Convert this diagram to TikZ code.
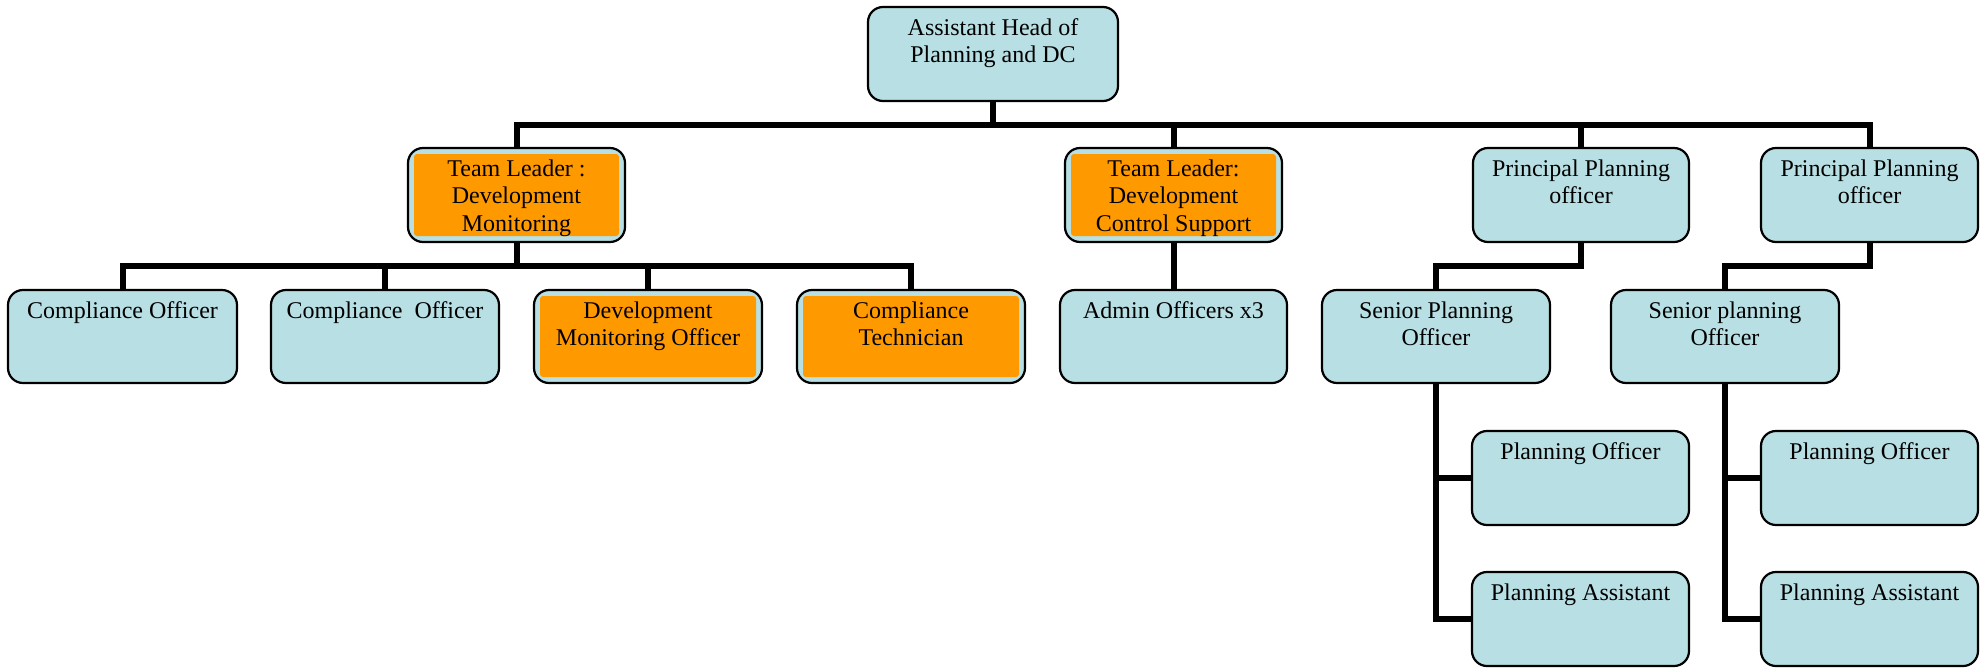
\documentclass[tikz,border=0pt]{standalone}
\usepackage{fontspec}
\setmainfont{Liberation Serif}
\usetikzlibrary{backgrounds}
\definecolor{boxblue}{RGB}{184,223,227}
\definecolor{boxorange}{RGB}{255,153,0}
\tikzset{
  box/.style={draw=black, line width=2.2pt, fill=boxblue, rounded corners=15pt,
    inner sep=0pt, outer sep=0pt, anchor=north west},
  lbl/.style={inner sep=0pt, outer sep=0pt, anchor=north, align=center,
    font=\fontsize{24}{27.5}\selectfont},
  conn/.style={draw=black, line width=6pt, line join=miter},
  inset/.style={fill=boxorange, rounded corners=3pt}
}
% #1 name, #2 x, #3 y, #4 width, #5 height, #6 text
\newcommand\bluebox[6]{%
  \node[box, minimum width=#4pt, minimum height=#5pt] (#1) at (#2,#3) {};
  \node[lbl] (#1-t) at ([yshift=-8.75pt]#1.north) {\strut #6};}
\newcommand\orangebox[6]{%
  \node[box, minimum width=#4pt, minimum height=#5pt] (#1) at (#2,#3) {};
  \fill[inset] ([shift={(6pt,-6pt)}]#1.north west) rectangle ([shift={(-6pt,6pt)}]#1.south east);
  \node[lbl] (#1-t) at ([yshift=-8.75pt]#1.north) {\strut #6};}
\begin{document}
\begin{tikzpicture}[x=1pt,y=-1pt]
\useasboundingbox (0,0) rectangle (1984,667);
\coordinate (bar1) at (0,125);
\coordinate (bar2) at (0,266);

\bluebox{top}{868}{7}{250}{94}{Assistant Head of\\Planning and DC}
\orangebox{tldm}{408}{148}{217}{94}{Team Leader :\\Development\\Monitoring}
\orangebox{tldcs}{1065}{148}{217}{94}{Team Leader:\\Development\\Control Support}
\bluebox{ppo1}{1473}{148}{216}{94}{Principal Planning\\officer}
\bluebox{ppo2}{1761}{148}{217}{94}{Principal Planning\\officer}

\bluebox{co1}{8}{290}{229}{93}{Compliance Officer}
\bluebox{co2}{271}{290}{228}{93}{Compliance\ \ Officer}
\orangebox{dmo}{534}{290}{228}{93}{Development\\Monitoring Officer}
\orangebox{ct}{797}{290}{228}{93}{Compliance\\Technician}
\bluebox{adm}{1060}{290}{227}{93}{Admin Officers x3}
\bluebox{spo1}{1322}{290}{228}{93}{Senior Planning\\Officer}
\bluebox{spo2}{1611}{290}{228}{93}{Senior planning\\Officer}

\bluebox{po1}{1472}{431}{217}{94}{Planning Officer}
\bluebox{pa1}{1472}{572}{217}{94}{Planning Assistant}
\bluebox{po2}{1761}{431}{217}{94}{Planning Officer}
\bluebox{pa2}{1761}{572}{217}{94}{Planning Assistant}

\begin{scope}[on background layer]
  % level 1 -> level 2
  \draw[conn] (top.south) -- (top.south |- bar1);
  \draw[conn] (tldm.north) -- (tldm.north |- bar1) -- (ppo2.north |- bar1) -- (ppo2.north);
  \draw[conn] (tldcs.north) -- (tldcs.north |- bar1);
  \draw[conn] (ppo1.north) -- (ppo1.north |- bar1);
  % team leader DM -> officers
  \draw[conn] (tldm.south) -- (tldm.south |- bar2);
  \draw[conn] (co1.north) -- (co1.north |- bar2) -- (ct.north |- bar2) -- (ct.north);
  \draw[conn] (co2.north) -- (co2.north |- bar2);
  \draw[conn] (dmo.north) -- (dmo.north |- bar2);
  % team leader DCS -> admin
  \draw[conn] (tldcs.south) -- (adm.north);
  % principal -> senior
  \draw[conn] (ppo1.south) -- (ppo1.south |- bar2) -- (spo1.north |- bar2) -- (spo1.north);
  \draw[conn] (ppo2.south) -- (ppo2.south |- bar2) -- (spo2.north |- bar2) -- (spo2.north);
  % senior -> planning officer / assistant
  \draw[conn] (spo1.south) -- (spo1.south |- pa1.west) -- (pa1.west);
  \draw[conn] (spo1.south |- po1.west) -- (po1.west);
  \draw[conn] (spo2.south) -- (spo2.south |- pa2.west) -- (pa2.west);
  \draw[conn] (spo2.south |- po2.west) -- (po2.west);
\end{scope}
\end{tikzpicture}
\end{document}
